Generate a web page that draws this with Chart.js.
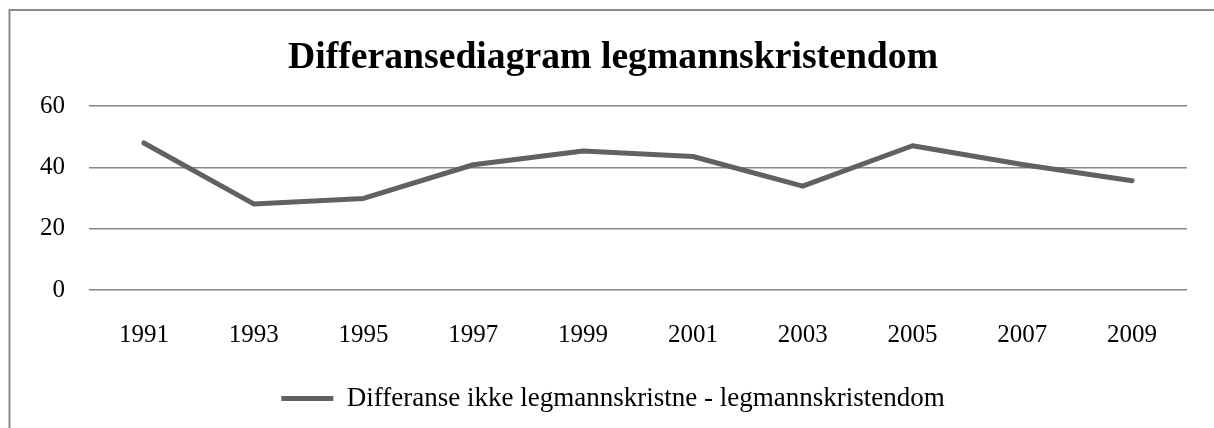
<!DOCTYPE html>
<html>
<head>
<meta charset="utf-8">
<script src="https://cdn.jsdelivr.net/npm/chart.js@4/dist/chart.umd.min.js"></script>
<style>
  html, body { margin: 0; padding: 0; background: #fff; }
  #wrap { width: 1214px; height: 428px; }
</style>
</head>
<body>
<div id="wrap"><canvas id="chart"></canvas></div>
<script>
const title = 'Differansediagram legmannskristendom'
const seriesLabel = 'Differanse ikke legmannskristne - legmannskristendom'
const years = ['1991', '1993', '1995', '1997', '1999', '2001', '2003', '2005', '2007', '2009']
const differanse = [48, 28.1, 29.9, 40.9, 45.4, 43.6, 33.9, 47.1, 41, 35.7]
const yTicks = [0, 20, 40, 60]

const serif = '"Liberation Serif", "Times New Roman", serif'
const lineColor = '#616161'

// frame of the chart, cut off on the right and bottom like the original
const framePlugin = {
  id: 'frame',
  beforeDraw (chart) {
    const ctx = chart.ctx
    ctx.save()
    ctx.strokeStyle = '#8a8a8a'
    ctx.lineWidth = 2
    ctx.strokeRect(9.5, 10, 1400, 1000)
    ctx.restore()
  }
}

const ctx = document.getElementById('chart').getContext('2d')
new Chart(ctx, {
  type: 'line',
  data: {
    labels: years,
    datasets: [{
      label: seriesLabel,
      data: differanse,
      borderColor: lineColor,
      backgroundColor: lineColor,
      borderWidth: 5,
      borderCapStyle: 'round',
      borderJoinStyle: 'round',
      pointRadius: 0,
      pointStyle: 'line',
      tension: 0
    }]
  },
  options: {
    responsive: true,
    maintainAspectRatio: false,
    animation: false,
    layout: { padding: { top: 10, right: 27, bottom: 6, left: 39 } },
    plugins: {
      title: {
        display: true,
        text: title,
        color: '#000',
        font: { family: serif, size: 37.7, weight: 'bold', lineHeight: 1.2 },
        padding: { top: 26, bottom: 25 }
      },
      legend: {
        position: 'bottom',
        labels: {
          usePointStyle: true,
          pointStyleWidth: 52,
          color: '#000',
          font: { family: serif, size: 27 },
          padding: 5
        }
      },
      tooltip: { enabled: false }
    },
    scales: {
      x: {
        offset: true,
        grid: { display: false, drawTicks: false },
        border: { display: false },
        ticks: { color: '#000', font: { family: serif, size: 25 }, padding: 30, maxRotation: 0 }
      },
      y: {
        min: 0,
        max: 60,
        afterFit: (s) => { s.width = 50 },
        afterBuildTicks: (s) => { s.ticks = yTicks.map(v => ({ value: v })) },
        grid: { color: '#878787', lineWidth: 1.5, drawTicks: false },
        border: { display: false },
        ticks: { color: '#000', font: { family: serif, size: 25 }, padding: 24 }
      }
    }
  },
  plugins: [framePlugin]
})
</script>
</body>
</html>
